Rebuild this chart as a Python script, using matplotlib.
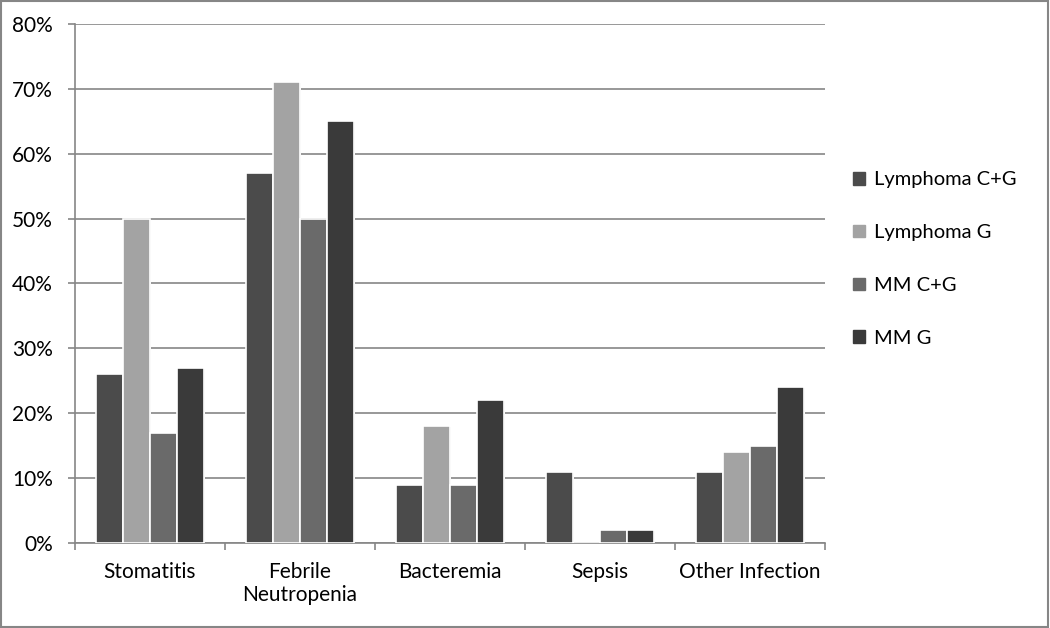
import matplotlib.pyplot as plt
import matplotlib.patches as mpatches
import numpy as np

plt.rcParams['font.family'] = ['Lato', 'DejaVu Sans']

categories = ['Stomatitis', 'Febrile\nNeutropenia', 'Bacteremia', 'Sepsis', 'Other Infection']
series = ['Lymphoma C+G', 'Lymphoma G', 'MM C+G', 'MM G']
lymphoma_cg = [26, 57, 9, 11, 11]
lymphoma_g = [50, 71, 18, 0, 14]
mm_cg = [17, 50, 9, 2, 15]
mm_g = [27, 65, 22, 2, 24]
colors = ['#4b4b4b', '#a3a3a3', '#6a6a6a', '#3a3a3a']

fig = plt.figure(figsize=(10.5, 6.28), dpi=100)
ax = fig.add_axes([0.0714, 0.1354, 0.7143, 0.8264])

x = np.arange(len(categories))
width = 0.18
values = [lymphoma_cg, lymphoma_g, mm_cg, mm_g]
for i, (vals, c, name) in enumerate(zip(values, colors, series)):
    offs = (i - 1.5) * width
    # soft shadow behind bars
    ax.bar(x + offs + 0.01, np.array(vals) - 0.15, width, color='#e2e2e2',
           edgecolor='none', zorder=2)
    ax.bar(x + offs, vals, width, color=c, edgecolor='white', linewidth=1.2,
           label=name, zorder=3)

ax.set_xlim(-0.5, len(categories) - 0.5)
ax.set_ylim(0, 80)
ax.set_yticks(range(0, 81, 10))
ax.set_yticklabels([f'{v}%' for v in range(0, 81, 10)], fontsize=15)
ax.yaxis.grid(True, color='#868686', linewidth=1.2, zorder=0)
ax.set_axisbelow(True)

ax.set_xticks(x)
ax.set_xticklabels(categories, fontsize=15, linespacing=1.15)
ax.tick_params(axis='x', length=0, pad=14)
ax.set_xticks(np.arange(-0.5, len(categories)), minor=True)
ax.tick_params(axis='x', which='minor', length=5, color='#868686', width=1.2)
ax.tick_params(axis='y', length=5, color='#868686', width=1.2, pad=11)

for s in ['top', 'right']:
    ax.spines[s].set_visible(False)
for s in ['left', 'bottom']:
    ax.spines[s].set_color('#868686')
    ax.spines[s].set_linewidth(1.2)

handles = [mpatches.Patch(color=c, label=n) for c, n in zip(colors, series)]
fig.legend(handles=handles, loc='upper left', bbox_to_anchor=(0.795, 0.756),
           frameon=False, fontsize=14.5, handlelength=0.6, handleheight=0.6,
           handletextpad=0.45, labelspacing=1.78)

fig.patches.append(mpatches.Rectangle((0.001, 0.002), 0.997, 0.996, transform=fig.transFigure,
                                      fill=False, edgecolor='#868686', linewidth=1.5))

fig.savefig('out.png', dpi=100)
